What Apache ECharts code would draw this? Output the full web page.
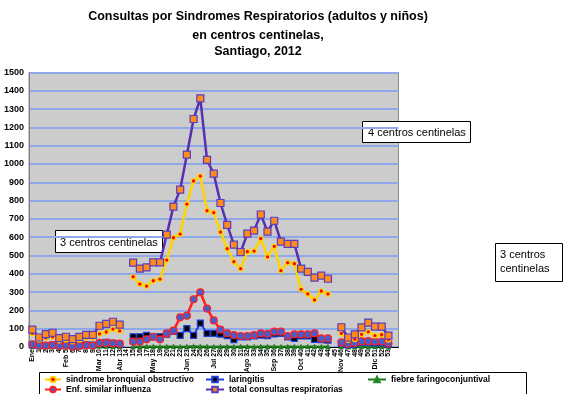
<!DOCTYPE html>
<html>
<head>
<meta charset="utf-8">
<script src="https://cdn.jsdelivr.net/npm/echarts@6/dist/echarts.min.js"></script>
<style>html,body{margin:0;padding:0;background:#fff}#c{width:576px;height:394px}</style>
</head>
<body>
<div id="c"></div>
<script>
// Week categories (x axis)
var weeks = ["Ene","1","2","3","4","Feb 5","6","7","8","9","Mar 10","11","12","Abr 13","14","15","16","17","May 18","19","20","21","22","Jun 23","24","25","26","Jul 27","28","29","30","31","Ago 32","33","34","35","Sep 36","37","38","39","Oct 40","41","42","43","44","45","Nov 46","47","48","49","50","Dic 51","52","53",""];

var sbo = [75,40,50,55,35,40,30,40,50,50,72,82,98,88,null,
  384,344,333,362,371,475,597,617,781,907,934,745,734,628,537,466,428,521,524,593,493,550,417,461,455,315,290,257,306,290,null,
  75,38,42,69,83,62,67,40,null];

var esi = [15,8,8,10,5,8,3,5,10,8,22,22,20,18,null,
  29,29,42,56,42,75,89,162,171,261,299,210,145,95,75,65,60,60,65,75,72,84,84,60,69,69,69,75,47,47,null,
  25,18,22,32,32,30,30,20,null];

var laringitis = [12,8,8,10,8,10,5,8,12,10,20,25,20,15,null,
  56,56,64,55,56,70,85,64,100,64,130,75,75,70,62,40,55,55,60,65,62,72,75,55,47,60,60,42,40,38,null,
  20,12,15,25,25,22,22,15,null];

var fiebre = [3,2,2,3,2,2,2,3,3,2,5,4,3,3,null,
  3,2,3,3,2,3,3,2,3,4,3,3,2,3,3,2,3,3,2,3,3,3,2,3,3,2,3,3,2,3,null,
  3,2,3,3,2,3,3,2,null];

var total = [95,52,70,78,48,56,43,55,66,66,116,126,138,122,null,
  461,428,435,462,462,614,767,860,1051,1246,1359,1022,947,787,667,559,519,619,636,724,631,690,576,564,564,428,410,379,390,373,null,
  108,52,69,107,133,111,111,62,null];

var names = ["sindrome bronquial obstructivo","laringitis","fiebre faringoconjuntival","Enf. similar influenza","total consultas respiratorias"];

var FF = "'Liberation Sans', Arial, sans-serif";

function mk(name, data, lc, lw, sym, ss, fill, border, bw, z) {
  return {
    name: name, type: 'line', data: data, connectNulls: false, z: z,
    symbol: sym, symbolSize: ss, showSymbol: true,
    lineStyle: {color: lc, width: lw},
    itemStyle: {color: fill, borderColor: border, borderWidth: bw},
    emphasis: {disabled: true}
  };
}

function legendAt(name, left, top, w) {
  return {
    data: [name], left: left, top: top, padding: 0, itemWidth: w, itemHeight: 7,
    textStyle: {fontFamily: FF, fontSize: 8.5, fontWeight: 'bold', color: '#000'},
    selectedMode: false
  };
}

function box(x, y, w, h, text, fs, tx, ty, lh) {
  return {
    type: 'group', children: [
      {type: 'rect', shape: {x: x, y: y, width: w, height: h}, style: {fill: '#fff', stroke: '#000', lineWidth: 1}},
      {type: 'text', x: tx, y: ty, style: {text: text, font: fs + 'px ' + FF, fill: '#000', lineHeight: lh || fs + 3, textVerticalAlign: 'top'}}
    ]
  };
}

var chart = echarts.init(document.getElementById('c'));
chart.setOption({
  animation: false,
  backgroundColor: '#ffffff',
  grid: {left: 29, right: 177.5, top: 72.5, bottom: 47, show: true, backgroundColor: '#cccccc', borderColor: '#8a8a8a', borderWidth: 1},
  xAxis: {
    type: 'category', data: weeks, boundaryGap: true,
    axisLine: {lineStyle: {color: '#000', width: 1}},
    axisTick: {show: false},
    axisLabel: {interval: 0, rotate: 90, fontSize: 7, fontWeight: 'bold', fontFamily: FF, color: '#000', margin: 2}
  },
  yAxis: {
    type: 'value', min: 0, max: 1500, interval: 100,
    axisLine: {show: true, lineStyle: {color: '#808080'}},
    axisTick: {show: false},
    splitLine: {lineStyle: {color: '#8ea9ea', width: 2}},
    axisLabel: {fontSize: 9, fontWeight: 'bold', fontFamily: FF, color: '#000', margin: 5, formatter: function (v) { return String(v); }}
  },
  legend: [
    legendAt(names[0], 44, 375, 16),
    legendAt(names[1], 205, 375, 18),
    legendAt(names[2], 367, 375, 18),
    legendAt(names[3], 44, 385, 16),
    legendAt(names[4], 205, 385, 18)
  ],
  series: [
    mk(names[2], fiebre, '#1f7a1f', 2, 'triangle', 5, '#1f7a1f', '#2a8a2a', 0.5, 2),
    mk(names[1], laringitis, '#1e3fd8', 2, 'rect', 6, '#000000', '#1e3fd8', 1.2, 3),
    mk(names[3], esi, '#ff2020', 2.5, 'circle', 7, '#4a5cc8', '#ff2020', 1.2, 4),
    mk(names[0], sbo, '#ffd400', 2.5, 'circle', 4.5, '#ff0000', '#ffd400', 1.2, 5),
    mk(names[4], total, '#5530b0', 2.5, 'rect', 7, '#ff8c1a', '#5a3cc0', 1.2, 6)
  ],
  graphic: [
    {type: 'text', x: 258, y: 17, style: {text: 'Consultas por Sindromes Respiratorios (adultos y niños)', font: 'bold 12.5px ' + FF, fill: '#000', textAlign: 'center', textVerticalAlign: 'middle'}},
    {type: 'text', x: 258, y: 36, style: {text: 'en centros centinelas,', font: 'bold 12.5px ' + FF, fill: '#000', textAlign: 'center', textVerticalAlign: 'middle'}},
    {type: 'text', x: 258, y: 52, style: {text: 'Santiago, 2012', font: 'bold 12.5px ' + FF, fill: '#000', textAlign: 'center', textVerticalAlign: 'middle'}},
    box(362.5, 121.5, 108, 21, '4 centros centinelas', 11, 368, 126),
    box(55.5, 230.5, 107, 22, '3 centros centinelas', 11, 60, 235.5),
    box(495.5, 243.5, 67, 38, '3 centros\ncentinelas', 11, 500, 248, 14),
    {type: 'rect', shape: {x: 39.5, y: 372.5, width: 487, height: 30}, style: {fill: 'none', stroke: '#000', lineWidth: 1}, z: -1}
  ]
});
</script>
</body>
</html>
